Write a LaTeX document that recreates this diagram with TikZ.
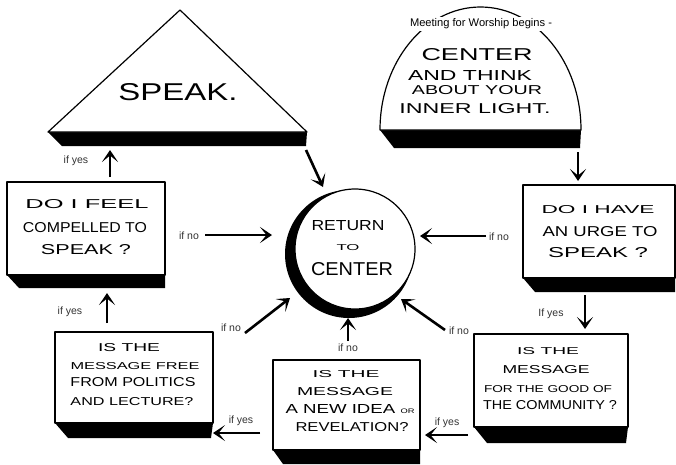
\documentclass[tikz,border=0pt]{standalone}
\usepackage{fontspec}
\usepackage{graphicx}
\setmainfont{Liberation Sans}
\newfontfamily\hand{Liberation Sans}
\usetikzlibrary{arrows.meta}
\newcommand{\hl}[3]{\resizebox{#1pt}{#2pt}{\hand #3}}
\tikzset{
  outline/.style={draw=black, line width=1.2pt, fill=white, line join=round},
  shade/.style={fill=black},
  arr/.style={line width=2.6pt, -{Stealth[length=12pt,width=16pt,inset=6.5pt]}},
  lbl/.style={font=\fontsize{10.5}{12}\selectfont, text=black!80, inner sep=0pt},
  ltr/.style={anchor=base, inner sep=0pt},
}
\begin{document}
\begin{tikzpicture}[x=1pt,y=-1pt]
\fill[white] (0,0) rectangle (676,464);
\useasboundingbox (0,0) rectangle (676,464);

% triangle SPEAK
\fill[shade] (48,132) -- (62,146) -- (306,146) -- (307,132) -- cycle;
\draw[outline] (48,132) -- (180,10) -- (307,132) -- cycle;
\node[ltr] (speak) at (178,100) {\hl{119}{17}{SPEAK.}};

% dome
\fill[shade] (380,130) -- (394,148) -- (580,148) -- (581,130) -- cycle;
\draw[outline] (380,130) arc[start angle=180, end angle=360, x radius=100.5, y radius=123] -- cycle;
\node[fill=white, inner sep=2pt] (meet) at (481,24) {\resizebox{142pt}{!}{Meeting for Worship begins -}};
\node[ltr] (d1) at (477,60) {\hl{111}{12}{CENTER}};
\node[ltr] (d2) at (470,80) {\hl{124}{10}{AND THINK}};
\node[ltr] (d3) at (477,94) {\hl{130}{9}{ABOUT YOUR}};
\node[ltr] (d4) at (475,113) {\hl{151}{10}{INNER LIGHT.}};

% left box
\fill[shade] (7,275) -- (19,288) -- (165,288) -- (165,275) -- cycle;
\draw[outline] (7,182) rectangle (165,275);
\node[ltr] (b1a) at (87,208) {\hl{123}{9}{DO I FEEL}};
\node[ltr] (b1b) at (85,232) {\hl{124}{10}{COMPELLED TO}};
\node[ltr] (b1c) at (86,254) {\hl{90}{10}{SPEAK ?}};

% right box
\fill[shade] (523,278) -- (535,292) -- (675,292) -- (675,278) -- cycle;
\draw[outline] (523,185) rectangle (675,278);
\node[ltr] (b2a) at (598,213) {\hl{113}{8}{DO I HAVE}};
\node[ltr] (b2b) at (600,236) {\hl{115}{10}{AN URGE TO}};
\node[ltr] (b2c) at (598,257) {\hl{100}{10}{SPEAK ?}};

% lower left box
\fill[shade] (55,423) -- (68,438) -- (211,438) -- (213,423) -- cycle;
\draw[outline] (55,332) rectangle (213,423);
\node[ltr] (b3a) at (129,351) {\hl{62}{8}{IS THE}};
\node[ltr] (b3b) at (135,369) {\hl{129}{7}{MESSAGE FREE}};
\node[ltr] (b3c) at (133,386) {\hl{125}{9}{FROM POLITICS}};
\node[ltr] (b3d) at (132,405) {\hl{123}{8}{AND LECTURE?}};

% middle box
\fill[shade] (273,450) -- (283,464) -- (420,464) -- (420,450) -- cycle;
\draw[outline] (273,360) rectangle (420,450);
\node[ltr] (b4a) at (346,377) {\hl{67}{7}{IS THE}};
\node[ltr] (b4b) at (345,395) {\hl{96}{8}{MESSAGE}};
\node[ltr] (b4c) at (350,413) {\hl{129}{9}{A NEW IDEA {\tiny OR}}};
\node[ltr] (b4d) at (352,431) {\hl{113}{9}{REVELATION?}};

% lower right box
\fill[shade] (474,427) -- (487,443) -- (626,443) -- (628,427) -- cycle;
\draw[outline] (474,334) rectangle (628,427);
\node[ltr] (b5a) at (548,354) {\hl{62}{7}{IS THE}};
\node[ltr] (b5b) at (546,373) {\hl{87}{8}{MESSAGE}};
\node[ltr] (b5c) at (548,392) {\hl{128}{7}{FOR THE GOOD OF}};
\node[ltr] (b5d) at (550,409) {\hl{134}{9}{THE COMMUNITY ?}};

% center circle
\fill[shade] (349,254) circle[radius=64];
\draw[outline] (355,249) circle[radius=60];
\node[ltr] (c1) at (348,230) {\hl{73}{10}{RETURN}};
\node[ltr] (c2) at (348,250) {\hl{23}{6}{TO}};
\node[ltr] (c3) at (352,275) {\hl{82}{13}{CENTER}};

% labels
\node[lbl] (y1) at (76,161) {if yes};
\node[lbl] (n1) at (189,236) {if no};
\node[lbl] (n2) at (499,237) {if no};
\node[lbl] (y2) at (70,312) {if yes};
\node[lbl] (n3) at (231,328) {if no};
\node[lbl] (n4) at (348,348) {if no};
\node[lbl] (n5) at (459,331) {if no};
\node[lbl] (y3) at (551,314) {If yes};
\node[lbl] (y4) at (447,423) {if yes};
\node[lbl] (y5) at (241,421) {if yes};

% arrow coordinates
\coordinate (a1s) at (306,150); \coordinate (a1e) at (323,187);
\coordinate (a2s) at (205,235); \coordinate (a2e) at (272,235);
\coordinate (a3s) at (486,236); \coordinate (a3e) at (420,236);
\coordinate (a4s) at (578,152); \coordinate (a4e) at (578,181);
\coordinate (a5s) at (585,295); \coordinate (a5e) at (585,329);
\coordinate (a6s) at (468,435); \coordinate (a6e) at (425,435);
\coordinate (a7s) at (260,433); \coordinate (a7e) at (213,433);
\coordinate (a8s) at (107,323); \coordinate (a8e) at (107,293);
\coordinate (a9s) at (110,177); \coordinate (a9e) at (110,150);
\coordinate (a10s) at (245,333); \coordinate (a10e) at (290,298);
\coordinate (a11s) at (348,341); \coordinate (a11e) at (348,318);
\coordinate (a12s) at (445,330); \coordinate (a12e) at (401,299);

\foreach \i in {1,...,12} \draw[arr] (a\i s) -- (a\i e);
\end{tikzpicture}
\end{document}
